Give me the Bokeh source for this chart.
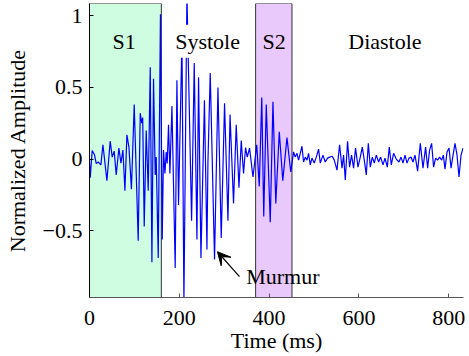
from bokeh.plotting import figure
from bokeh.models import Label, Arrow, VeeHead, Range1d, FixedTicker
from bokeh.embed import file_html
from bokeh.resources import INLINE

# ---- data ----
t_ms = [0.0, 1.6, 6.0, 11.1, 14.9, 19.4, 25.4, 29.9, 38.8, 46.1, 50.6, 55.0, 59.5, 65.5, 70.0, 74.4,
        78.9, 83.3, 87.8, 93.4, 99.6, 108.5, 113.0, 116.3, 118.5, 121.9, 126.3, 130.8, 135.3, 139.0,
        142.6, 146.4, 148.6, 153.1, 158.0, 162.0,
        164.9, 168.0, 170.9, 173.1, 176.0, 179.1, 183.6, 190.9, 194.7, 198.3, 205.9, 210.3, 217.0,
        227.4, 233.3, 239.3, 242.9, 248.2, 256.0, 261.6, 263.8, 268.9, 278.5, 286.1, 293.4, 300.8,
        308.4, 313.0, 320.8, 326.8, 332.9, 338.0, 343.1, 347.6, 351.4, 356.5, 364.1,
        372.5, 378.1, 383.7, 388.1, 393.7, 402.6, 408.6, 414.9, 422.7, 430.5, 439.8, 448.3,
        454.5, 458.3, 462.1, 465.7, 469.4, 473.2, 476.8, 480.6, 484.4, 487.9, 491.7, 495.5, 500.6,
        505.1, 510.2, 514.0, 520.0, 525.1, 530.3, 534.7, 540.7, 545.2, 551.2, 557.0, 562.4, 565.9,
        569.7, 574.8, 579.3, 583.7, 588.2, 592.6, 598.0, 603.1, 607.6, 612.0, 616.5, 621.0, 625.4,
        629.9, 634.3, 638.8, 643.9, 648.4, 653.7, 658.2, 663.3, 667.7, 672.2, 677.3, 683.3, 689.3,
        693.8, 698.3, 702.7, 707.2, 711.6, 716.1, 720.5, 725.0, 730.8, 736.8, 742.8, 748.6, 753.1,
        757.5, 762.0, 766.4, 770.9, 775.3, 779.8, 784.3, 788.1, 791.8, 796.3, 800.8, 805.2, 809.7,
        814.1, 818.6, 823.0, 827.5, 832.0]
amplitude = [-0.02, -0.13, 0.06, 0.03, -0.03, -0.02, -0.04, 0.10, -0.15, 0.125, 0.014, 0.056, -0.11,
             0.077, -0.028, 0.063, -0.22, 0.17, 0.084, -0.21, 0.38, -0.57, 0.32, 0.25, 0.29, -0.47,
             0.20, -0.22, 0.64, -0.72, 0.56, -0.11, 0.014, -0.69, 1.01, -0.56,
             0.063, -0.10, 0.05, -0.03, 0.24, -0.10, 0.37, -0.76, 0.55, -0.32, 0.83, -1.0, 1.15,
             -0.43, 0.67, -0.56, 0.57, -0.69, 0.41, -0.63, -0.02, 0.60, -0.70, 0.50, -0.55, 0.39,
             -0.43, 0.31, -0.31, 0.24, -0.20, 0.13, -0.10, 0.08, 0.014, 0.077, -0.125,
             0.10, -0.19, 0.43, -0.40, 0.38, -0.44, 0.40, -0.31, 0.19, -0.15, 0.15, -0.09,
             0.05, 0.014, 0.04, -0.007, 0.04, 0.09, -0.02, 0.014, -0.007, 0.04, -0.04, 0.007, -0.028,
             0.014, 0.07, -0.028, 0.028, -0.02, 0.007, 0.014, 0.02, -0.007, -0.077, 0.10, -0.063, 0.028,
             -0.146, 0.125, -0.056, 0.028, -0.063, 0.077, -0.056, 0.014, 0.084, -0.007, -0.11, 0.11, -0.056,
             0.014, -0.028, 0.028, -0.02, 0.014, -0.04, 0.007, -0.056, 0.084, -0.04, 0.04, 0.0, -0.02,
             0.014, -0.028, 0.028, -0.028, 0.007, 0.014, -0.02, 0.028, -0.084, 0.11, -0.063, 0.084, -0.063,
             0.063, 0.11, -0.056, 0.007, -0.007, 0.014, -0.007, 0.028, -0.07, 0.05, 0.077, -0.063, 0.028,
             0.11, 0.028, -0.125, 0.028, 0.077]

phase_names = ["S1", "Systole", "S2", "Diastole"]
phase_label_x = [77, 263, 411, 658]
phase_label_y = 0.822
shade_names = ["S1", "S2"]
shade_start = [0, 370]
shade_end = [160, 451]
shade_colors = ["#cefde2", "#e9c8fb"]

x_ticks = [0, 200, 400, 600, 800]
y_ticks = [-0.5, 0, 0.5, 1]
y_tick_labels = ["\u22120.5", "0", "0.5", "1"]

x_lim = (0, 833)
y_lim = (-0.965, 1.085)

murmur_text_pos = (349, -0.819)
murmur_arrow_tail = (334, -0.82)
murmur_arrow_head = (285, -0.646)

FONT = "Liberation Serif"

p = figure(frame_width=374, frame_height=294, output_backend="svg", toolbar_location=None,
           x_range=Range1d(*x_lim), y_range=Range1d(*y_lim),
           min_border_left=89, min_border_right=6, min_border_top=8, min_border_bottom=56,
           margin=(-5, 0, 0, 0))
p.outline_line_color = None
p.grid.visible = False
p.background_fill_color = "white"

p.quad(left=shade_start, right=shade_end, bottom=y_lim[0], top=y_lim[1],
       fill_color=shade_colors, line_color="#333333", line_width=1)

p.line(t_ms, amplitude, line_color="#0000ff", line_width=1.2)

for name, xl in zip(phase_names, phase_label_x):
    lab = Label(x=xl, y=phase_label_y, text=name, text_font=FONT, text_font_size="22px",
                text_align="center", text_baseline="middle", text_color="black")
    if name == "Systole":
        lab.background_fill_color = "white"
        lab.padding = 4
    p.add_layout(lab)

p.add_layout(Label(x=murmur_text_pos[0], y=murmur_text_pos[1], text="Murmur", text_font=FONT,
                   text_font_size="22px", text_align="left", text_baseline="middle",
                   text_color="black"))
p.add_layout(Arrow(end=VeeHead(size=13, fill_color="black", line_color="black"),
                   x_start=murmur_arrow_tail[0], y_start=murmur_arrow_tail[1],
                   x_end=murmur_arrow_head[0], y_end=murmur_arrow_head[1],
                   line_color="black", line_width=1.2))

p.xaxis.ticker = FixedTicker(ticks=x_ticks)
p.yaxis.ticker = FixedTicker(ticks=y_ticks)
p.yaxis.major_label_overrides = {k: v for k, v in zip(y_ticks, y_tick_labels)}
for ax in (p.xaxis[0], p.yaxis[0]):
    ax.major_tick_in = 4
    ax.major_tick_out = 0
    ax.minor_tick_line_color = None
    ax.major_label_text_font = FONT
    ax.major_label_text_font_size = "22px"
    ax.major_label_text_color = "black"
    ax.axis_label_text_font = FONT
    ax.axis_label_text_font_style = "normal"
    ax.axis_label_text_color = "black"
    ax.axis_label_text_font_size = "22px"
p.xaxis.axis_line_color = "#555555"
p.xaxis.major_tick_line_color = "#555555"
p.yaxis.axis_line_color = "black"
p.xaxis.major_label_standoff = 13
p.yaxis.major_label_standoff = 7
p.xaxis.axis_label = "Time (ms)"
p.xaxis.axis_label_standoff = 0
p.yaxis.axis_label = "Normalized Amplitude"
p.yaxis.axis_label_standoff = 10

open("out.html", "w").write(file_html(p, INLINE))
